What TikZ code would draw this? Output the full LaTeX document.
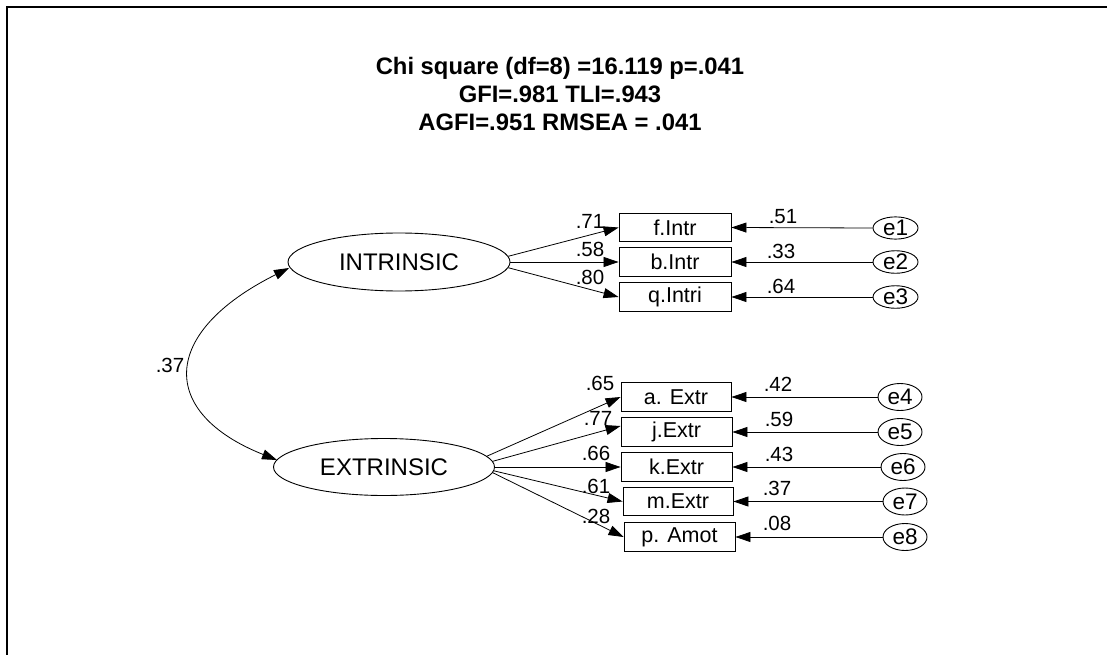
\documentclass[tikz,border=0pt]{standalone}
\usepackage{fontspec}
\setmainfont{Liberation Sans}
\usetikzlibrary{shapes.geometric,arrows.meta}
\begin{document}
\begin{tikzpicture}[x=1pt,y=-1pt,
  latent/.style={draw,ellipse,line width=0.9pt,inner sep=0pt,font=\fontsize{24}{26}\selectfont},
  errnode/.style={draw,ellipse,line width=0.9pt,inner sep=0pt,minimum width=45pt,font=\fontsize{22.5}{24}\selectfont},
  obsbox/.style={draw,rectangle,line width=0.9pt,inner sep=0pt,minimum height=28.5pt,font=\fontsize{21.5}{23}\selectfont},
  lbl/.style={inner sep=0pt,font=\fontsize{20.5}{22}\selectfont},
  path/.style={line width=0.8pt,-{Triangle[length=15pt,width=10pt]}},
  cov/.style={line width=0.8pt,{Triangle[length=15pt,width=10pt]}-{Triangle[length=15pt,width=10pt]}}
]
\useasboundingbox (0,0) rectangle (1107,655);
\fill[white] (0,0) rectangle (1107,655);
% frame (top and left edges)
\draw[line width=2.3pt] (7,655) -- (7,7) -- (1107,7);

% title
\node[align=center,inner sep=0pt,font=\fontsize{23.8}{28}\selectfont\bfseries] (title) at (560,94)
  {Chi square (df=8) =16.119 p=.041\\GFI=.981 TLI=.943\\AGFI=.951 RMSEA = .041};

% latent variables
\node[latent,minimum width=222pt,minimum height=58pt] (INT) at (399,262) {INTRINSIC};
\node[latent,minimum width=221pt,minimum height=57pt] (EXT) at (384,467) {EXTRINSIC};

% observed boxes
\node[obsbox,minimum width=112pt] (f) at (675,227.5) {f.Intr};
\node[obsbox,minimum width=112pt] (b) at (675,262) {b.Intr};
\node[obsbox,minimum width=112pt] (q) at (675,297) {q.Intri};
\node[obsbox,minimum width=110pt] (a) at (676,397) {a. Extr};
\node[obsbox,minimum width=111pt] (j) at (676.5,432) {j.Extr};
\node[obsbox,minimum width=111pt] (k) at (676.5,467) {k.Extr};
\node[obsbox,minimum width=110pt] (m) at (678,501.5) {m.Extr};
\node[obsbox,minimum width=111pt] (p) at (679.5,537) {p. Amot};

% error terms
\node[errnode,minimum height=22pt] (e1) at (895.5,228) {e1};
\node[errnode,minimum height=22pt] (e2) at (895.5,262) {e2};
\node[errnode,minimum height=22pt] (e3) at (895.5,297) {e3};
\node[errnode,minimum width=44pt,minimum height=27pt] (e4) at (900,397) {e4};
\node[errnode,minimum width=44pt,minimum height=27pt] (e5) at (900,432) {e5};
\node[errnode,minimum width=44pt,minimum height=27pt] (e6) at (903,467) {e6};
\node[errnode,minimum width=44pt,minimum height=27pt] (e7) at (905,501.5) {e7};
\node[errnode,minimum width=44pt,minimum height=27pt] (e8) at (905,537) {e8};

% loadings
\draw[path] (INT.3) -- (f.west);
\draw[path] (INT.east) -- (b.west);
\draw[path] (INT.-3) -- (q.west);
\draw[path] (EXT.6) -- (a.west);
\draw[path] (EXT.3) -- ([yshift=6pt]j.west);
\draw[path] (EXT.east) -- (k.west);
\draw[path] (EXT.-2) -- (m.west);
\draw[path] (EXT.-3) -- (p.west);

% error paths
\foreach \e/\o in {e1/f,e2/b,e3/q,e4/a,e5/j,e6/k,e7/m,e8/p}
  \draw[path] (\e.west) -- (\o.east);

% covariance
\coordinate (ct) at (289,268);
\coordinate (cb) at (277,460);
\draw[cov] (ct) .. controls (159,333) and (159,413) .. (cb);

% labels
\node[lbl] (l1) at (590,221) {.71};
\node[lbl] (l2) at (590,249) {.58};
\node[lbl] (l3) at (590,277.5) {.80};
\node[lbl] (l4) at (600,383) {.65};
\node[lbl] (l5) at (598,418) {.77};
\node[lbl] (l6) at (596,453.5) {.66};
\node[lbl] (l7) at (596,486) {.61};
\node[lbl] (l8) at (596,516.5) {.28};
\node[lbl] (r1) at (783,217) {.51};
\node[lbl] (r2) at (781,251) {.33};
\node[lbl] (r3) at (781,286) {.64};
\node[lbl] (r4) at (778,384) {.42};
\node[lbl] (r5) at (779,419) {.59};
\node[lbl] (r6) at (779,454) {.43};
\node[lbl] (r7) at (777,488) {.37};
\node[lbl] (r8) at (777,523) {.08};
\node[lbl] (cv) at (170,365) {.37};
\end{tikzpicture}
\end{document}
